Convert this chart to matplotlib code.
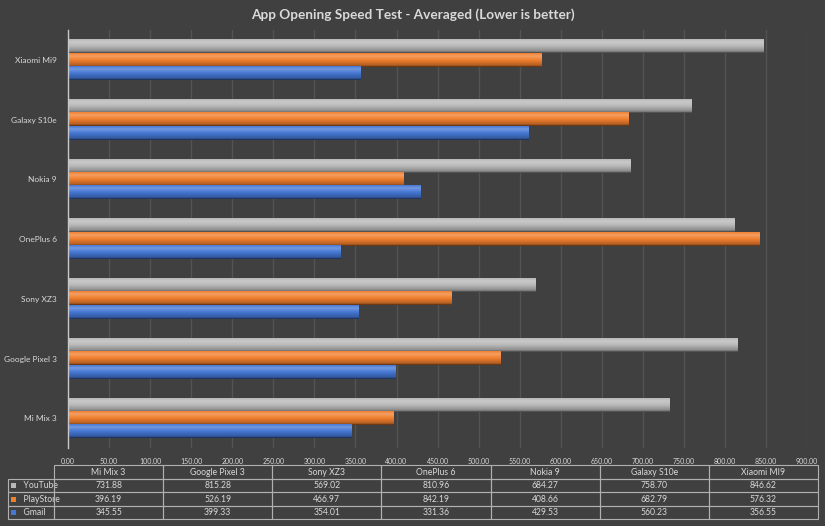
import numpy as np
import matplotlib.pyplot as plt
from matplotlib.colors import LinearSegmentedColormap, to_rgb
from matplotlib.patches import Rectangle

plt.rcParams["font.family"] = ["Lato", "DejaVu Sans"]

phones = ["Mi Mix 3", "Google Pixel 3", "Sony XZ3", "OnePlus 6",
          "Nokia 9", "Galaxy S10e", "Xiaomi MI9"]
phone_ticks = ["Mi Mix 3", "Google Pixel 3", "Sony XZ3", "OnePlus 6",
               "Nokia 9", "Galaxy S10e", "Xiaomi Mi9"]
youtube = [731.88, 815.28, 569.02, 810.96, 684.27, 758.70, 846.62]
playstore = [396.19, 526.19, 466.97, 842.19, 408.66, 682.79, 576.32]
gmail = [345.55, 399.33, 354.01, 331.36, 429.53, 560.23, 356.55]
series_names = ["YouTube", "PlayStore", "Gmail"]

BG = "#404040"
TXT = "#d9d9d9"
colors = ["#b8b8b8", "#f07f2e", "#4577d4"]

fig = plt.figure(figsize=(8.25, 5.26), dpi=100, facecolor=BG)
ax = fig.add_axes([0.0824, 0.148, 0.896, 0.795])
ax.set_facecolor(BG)

y = np.arange(len(phones))
h = 0.223
series = [youtube, playstore, gmail]
offsets = [h, 0.0, -h]


def shade(c):
    r = np.array(to_rgb(c))
    light = np.clip(r + (1 - r) * 0.25, 0, 1)
    dark = r * 0.75
    shadow = r * 0.35
    return LinearSegmentedColormap.from_list(
        "g", [(0.0, shadow), (0.12, dark), (0.5, r), (0.8, light), (1.0, r)])


grad = np.linspace(0, 1, 64).reshape(-1, 1)
for vals, off, col in zip(series, offsets, colors):
    bars = ax.barh(y + off, vals, height=h, color=col, zorder=2, linewidth=0)
    cmap = shade(col)
    for b in bars:
        x0, y0 = b.get_x(), b.get_y()
        ax.imshow(grad, extent=[x0, x0 + b.get_width(), y0, y0 + b.get_height()],
                  origin="lower", cmap=cmap, aspect="auto", zorder=3,
                  interpolation="bilinear")

ax.set_xlim(0, 900)
ax.set_ylim(-0.5, len(phones) - 0.5)
ax.set_xticks(np.arange(0, 901, 50))
ax.set_xticklabels([f"{v:.2f}" for v in np.arange(0, 901, 50)])
ax.set_yticks(y)
ax.set_yticklabels(phone_ticks)
ax.tick_params(axis="x", length=0, labelsize=5, colors=TXT, pad=7)
ax.tick_params(axis="y", length=0, labelsize=6, colors=TXT, pad=8)
ax.grid(axis="x", color="#535353", linewidth=1, zorder=0)
ax.set_axisbelow(True)
for s in ["top", "right", "bottom"]:
    ax.spines[s].set_visible(False)
ax.spines["left"].set_color("#c8c8c8")
ax.spines["left"].set_linewidth(1)
ax.spines["left"].set_zorder(4)

fig.text(0.5, 0.972, "App Opening Speed Test - Averaged (Lower is better)",
         ha="center", va="center", fontsize=9.8, fontweight="bold", color=TXT)

# ---- data table
cell_text = [[name] + [f"{v:.2f}" for v in vals]
             for name, vals in zip(series_names, series)]
widths = [46] + [109] * len(phones)
tab = ax.table(cellText=cell_text, colLabels=[""] + phones,
               colWidths=[w / sum(widths) for w in widths],
               cellLoc="center", bbox=[-0.0812, -0.170, 1.096, 0.129])
tab.auto_set_font_size(False)
tab.set_fontsize(6.2)
for (r, c), cell in tab.get_celld().items():
    cell.set_facecolor("none")
    cell.set_edgecolor("#b0b0b0")
    cell.set_linewidth(0.8)
    cell.get_text().set_color(TXT)
    if r == 0 and c == 0:
        cell.visible_edges = ""
    if c == 0 and r > 0:
        cell.get_text().set_ha("left")
        cell.PAD = 0.25

fig.canvas.draw()
inv = fig.transFigure.inverted()
for (r, c), cell in tab.get_celld().items():
    if c == 0 and r > 0:
        bb = cell.get_window_extent(fig.canvas.get_renderer())
        (fx0, fy0), (fx1, fy1) = inv.transform([[bb.x0, bb.y0], [bb.x1, bb.y1]])
        sz = 5 / 526
        fig.patches.append(Rectangle((fx0 + 3 / 825, (fy0 + fy1) / 2 - sz / 2),
                                     5 / 825, sz, transform=fig.transFigure,
                                     facecolor=colors[r - 1], edgecolor="none"))
        cell.get_text().set_text("  " + series_names[r - 1])

fig.savefig("out.png", dpi=100, facecolor=BG)
